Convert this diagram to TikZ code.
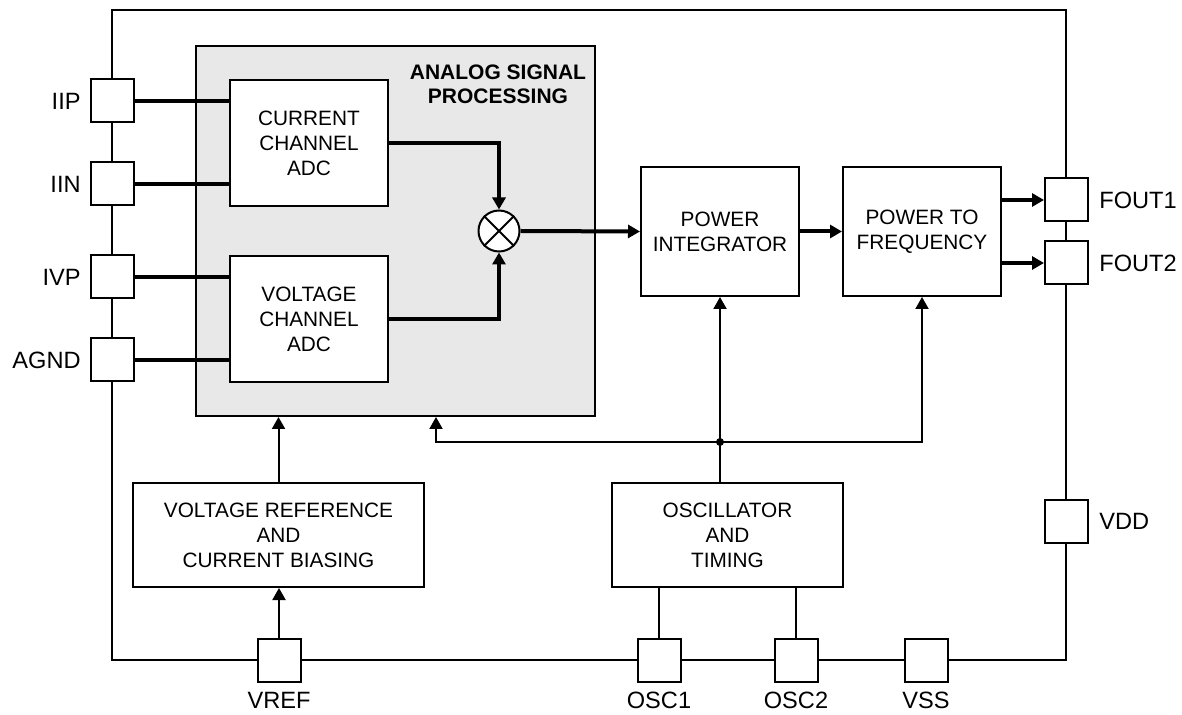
\documentclass[tikz,border=0pt]{standalone}
\usepackage{fontspec}
\setmainfont{Liberation Sans}
\usetikzlibrary{arrows.meta,positioning,calc}
\definecolor{aspgray}{RGB}{232,232,232}

\tikzset{
  pin/.style={draw,fill=white,line width=1pt,minimum width=21.5pt,minimum height=21.5pt,inner sep=0pt},
  pintext/.style={inner sep=0pt,font=\fontsize{11.8}{14}\selectfont},
  block/.style={draw,fill=white,line width=1pt,align=center,inner sep=0pt,font=\fontsize{10.4}{12.5}\selectfont},
  wire/.style={line width=1pt},
  bus/.style={line width=2pt},
}

\begin{document}
\begin{tikzpicture}[x=0.5pt,y=-0.5pt,>={Triangle[length=6pt,width=6.5pt]}]
    \useasboundingbox (0,0) rectangle (1182,715);
    % chip outline
    \draw[wire] (112,10) rectangle (1066,660);
    % analog part
    \node[draw,fill=aspgray,line width=1pt,minimum width=199.5pt,minimum height=185pt,inner sep=0pt] (asp) at (395.5,231) {};
    \node[inner sep=0pt,align=center,font=\bfseries\fontsize{10.5}{12}\selectfont] (asplbl) at (498,84) {ANALOG SIGNAL\\PROCESSING};
    \node[block,minimum width=79pt,minimum height=63pt] (cadc) at (309,143) {CURRENT\\CHANNEL\\ADC};
    \node[block,minimum width=79pt,minimum height=63pt] (vadc) at (309,319) {VOLTAGE\\CHANNEL\\ADC};
    \node[draw,fill=white,circle,line width=1pt,minimum size=20.5pt,inner sep=0pt] (mult) at (499,231) {};
    \draw[wire] (mult.north west) -- (mult.south east) (mult.north east) -- (mult.south west);
    % digital part
    \node[block,minimum width=79pt,minimum height=64.5pt] (pint) at (720,231.5) {POWER\\INTEGRATOR};
    \node[block,minimum width=79pt,minimum height=64.5pt] (ptof) at (922,231.5) {POWER TO\\FREQUENCY};
    \node[block,minimum width=145.5pt,minimum height=52pt] (vrb) at (278.5,535) {VOLTAGE REFERENCE\\AND\\CURRENT BIASING};
    \node[block,minimum width=115.5pt,minimum height=52pt] (osc) at (727.5,535) {OSCILLATOR\\AND\\TIMING};
    % pins
    \node[pin] (iip)  at (112.5,101) {};
    \node[pin] (iin)  at (112.5,184) {};
    \node[pin] (ivp)  at (112.5,277) {};
    \node[pin] (agnd) at (112.5,360) {};
    \node[pin] (fout1) at (1066.5,200) {};
    \node[pin] (fout2) at (1066.5,263) {};
    \node[pin] (vdd)   at (1066.5,521) {};
    \node[pin] (vref) at (279,660) {};
    \node[pin] (osc1) at (659,660) {};
    \node[pin] (osc2) at (796,660) {};
    \node[pin] (vss)  at (926,660) {};
    \node[pintext,left=4.5pt of iip]  (iiplbl)  {IIP};
    \node[pintext,left=4.5pt of iin]  (iinlbl)  {IIN};
    \node[pintext,left=4.5pt of ivp]  (ivplbl)  {IVP};
    \node[pintext,left=4.5pt of agnd] (agndlbl) {AGND};
    \node[pintext,right=5pt of fout1] (fout1lbl) {FOUT1};
    \node[pintext,right=5pt of fout2] (fout2lbl) {FOUT2};
    \node[pintext,right=5pt of vdd]   (vddlbl)   {VDD};
    \node[pintext,below=4.75pt of vref] (vreflbl) {VREF};
    \node[pintext,below=4.75pt of osc1] (osc1lbl) {OSC1};
    \node[pintext,below=4.75pt of osc2] (osc2lbl) {OSC2};
    \node[pintext,below=4.75pt of vss]  (vsslbl)  {VSS};
    % signal path
    \foreach \p in {iip,iin} \draw[bus] (\p.east) -- (\p.east -| cadc.west);
    \foreach \p in {ivp,agnd} \draw[bus] (\p.east) -- (\p.east -| vadc.west);
    \draw[bus,->] (cadc.east) -| (mult.north);
    \draw[bus,->] (vadc.east) -| (mult.south);
    \draw[bus,->] (mult.east) -- (pint.west);
    \draw[bus,->] (pint.east) -- (ptof.west);
    \draw[bus,->] (ptof.east |- fout1) -- (fout1.west);
    \draw[bus,->] (ptof.east |- fout2) -- (fout2.west);
    % reference and clock
    \draw[wire,->] (vref.north) -- (vrb.south -| vref.north);
    \draw[wire,->] (vrb.north) -- (vrb.north |- asp.south);
    \coordinate (clk) at ($(pint.south)+(0,145)$);
    \draw[wire] (pint.south |- osc.north) -- (clk);
    \draw[wire,->] (clk) -- (pint.south);
    \draw[wire,->] (clk) -| ($(asp.south)+(40.5,0)$);
    \draw[wire,->] (clk) -| (ptof.south);
    \fill (clk) circle (2pt);
    \draw[wire] (osc1.north |- osc.south) -- (osc1.north);
    \draw[wire] (osc2.north |- osc.south) -- (osc2.north);
  \end{tikzpicture}
\end{document}
